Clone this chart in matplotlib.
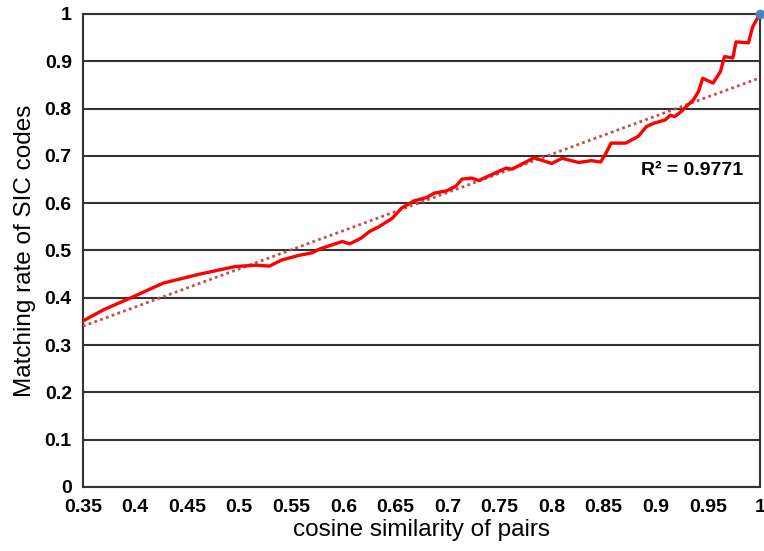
import matplotlib
matplotlib.use("Agg")
import matplotlib.pyplot as plt

plt.rcParams["font.family"] = ["Liberation Sans", "DejaVu Sans"]

# curve
cos_sim = [0.350, 0.370, 0.396, 0.427, 0.462, 0.496, 0.516, 0.529, 0.541, 0.558,
           0.570, 0.577, 0.599, 0.606, 0.617, 0.625, 0.634, 0.647, 0.656, 0.668,
           0.680, 0.687, 0.699, 0.708, 0.714, 0.723, 0.730, 0.742, 0.756, 0.762,
           0.783, 0.800, 0.810, 0.826, 0.838, 0.847, 0.852, 0.857, 0.871, 0.883,
           0.891, 0.898, 0.909, 0.914, 0.918, 0.924, 0.931, 0.936, 0.941, 0.945,
           0.955, 0.962, 0.966, 0.974, 0.977, 0.989, 0.993, 1.000]
match_rate = [0.351, 0.375, 0.400, 0.431, 0.450, 0.466, 0.469, 0.467, 0.480, 0.490,
              0.495, 0.503, 0.519, 0.514, 0.526, 0.540, 0.550, 0.568, 0.590, 0.605,
              0.612, 0.621, 0.626, 0.636, 0.651, 0.653, 0.648, 0.660, 0.674, 0.672,
              0.696, 0.684, 0.695, 0.686, 0.690, 0.687, 0.705, 0.727, 0.727, 0.741,
              0.762, 0.769, 0.776, 0.786, 0.783, 0.793, 0.808, 0.818, 0.836, 0.864,
              0.854, 0.878, 0.910, 0.907, 0.941, 0.939, 0.973, 1.000]

# linear trendline ends
trend_x = [0.35, 1.0]
trend_y = [0.340, 0.865]
r2_text = "R² = 0.9771"

x_ticks = [0.35, 0.4, 0.45, 0.5, 0.55, 0.6, 0.65, 0.7, 0.75, 0.8, 0.85, 0.9, 0.95, 1]
y_ticks = [0, 0.1, 0.2, 0.3, 0.4, 0.5, 0.6, 0.7, 0.8, 0.9, 1]

fig = plt.figure(figsize=(7.64, 5.51), dpi=100)
ax = fig.add_axes([0.1086, 0.1162, 0.8861, 0.8584])

ax.plot(trend_x, trend_y, color="#C0504D", lw=2, linestyle=(0, (1, 1.2)), zorder=3)
ax.plot(cos_sim, match_rate, color="#FF0000", lw=2.4, zorder=4)
ax.plot([cos_sim[-1]], [match_rate[-1]], "o", color="#4F81BD", ms=6, zorder=5, clip_on=False)

ax.set_xlim(0.35, 1)
ax.set_ylim(0, 1)
ax.set_xticks(x_ticks)
ax.set_xticklabels([f"{t:g}" for t in x_ticks])
ax.set_yticks(y_ticks)
ax.set_yticklabels([f"{t:g}" for t in y_ticks])
ax.tick_params(length=0, labelsize=14)
ax.tick_params(axis="y", pad=8)
ax.tick_params(axis="x", pad=9)
for lab in ax.get_xticklabels() + ax.get_yticklabels():
    lab.set_fontweight("bold")

ax.yaxis.grid(True, color="#333333", lw=1.5)
ax.set_axisbelow(True)
for s in ax.spines.values():
    s.set_color("#333333")
    s.set_linewidth(1.5)

ax.text(0.886, 0.670, r2_text, fontsize=14, fontweight="bold", ha="left", va="center")

ax.set_xlabel("cosine similarity of pairs", fontsize=17.5, labelpad=2)
ax.set_ylabel("Matching rate of SIC codes", fontsize=17.5, labelpad=6)

fig.savefig("out.png")
